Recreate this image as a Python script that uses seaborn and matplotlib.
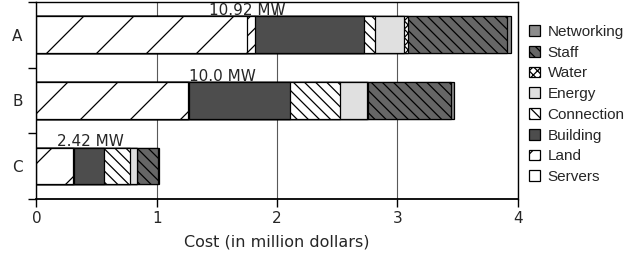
import numpy as np
import matplotlib
matplotlib.use('Agg')
import matplotlib.pyplot as plt
from matplotlib.backend_bases import GraphicsContextBase
import seaborn as sns

# ─── Data (million dollars) ───
sites = ['A', 'B', 'C']
power_mw = [10.92, 10.0, 2.42]
components = ['Servers', 'Land', 'Building', 'Connection', 'Energy', 'Water', 'Staff', 'Networking']
servers    = [1.75, 1.256, 0.306]
land       = [0.063, 0.015, 0.005]
building   = [0.911, 0.835, 0.25]
connection = [0.091, 0.415, 0.219]
energy     = [0.243, 0.23, 0.055]
water      = [0.033, 0.008, 0.004]
staff      = [0.817, 0.69, 0.17]
networking = [0.036, 0.022, 0.006]

costs = [servers, land, building, connection, energy, water, staff, networking]
faces = ['white', 'white', '0.3', 'white', '0.88', 'white', '0.4', '0.55']
hatches = ['/', '//', None, '\\\\\\', None, 'xxxx', '\\\\\\', None]

# single '/' hatch is drawn sparse, like in the original figure
_orig_hatch_path = GraphicsContextBase.get_hatch_path
def _hatch_path(self, density=6.0):
    if self.get_hatch() == '/':
        density = 4.0
    return _orig_hatch_path(self, density)
GraphicsContextBase.get_hatch_path = _hatch_path

sns.set_style('ticks')
plt.rcParams['font.family'] = 'DejaVu Sans'
plt.rcParams['hatch.linewidth'] = 0.9

fig, ax = plt.subplots(figsize=(6.4, 2.58), dpi=100)
fig.subplots_adjust(left=0.057, right=0.809, top=0.992, bottom=0.229)

# stacked bars: draw cumulative totals from the largest down
cum = np.cumsum(np.array(costs), axis=0)
for i in reversed(range(len(components))):
    sns.barplot(x=cum[i], y=sites, orient='h', color=faces[i], saturation=1,
                hatch=hatches[i], edgecolor='black', linewidth=0.9,
                width=0.56, errorbar=None, label=components[i], ax=ax)

totals = cum[-1]
for j, p in enumerate(power_mw):
    ax.text(totals[j] * 0.445, j - 0.30, f'{p} MW', ha='center', va='baseline', fontsize=11)

ax.set_xlim(0, 4)
ax.set_ylim(2.5, -0.5)
ax.set_xticks([0, 1, 2, 3, 4])
ax.set_yticks([-0.5, 0.5, 1.5, 2.5], labels=[])
ax.set_yticks([0, 1, 2], labels=sites, minor=True)
ax.tick_params(axis='y', which='minor', length=0, pad=10, labelsize=11)
ax.tick_params(axis='both', which='major', length=5.5, width=1, color='black', labelsize=11)
ax.set_xlabel('Cost (in million dollars)', fontsize=11.5, labelpad=6)
ax.set_ylabel('')
ax.set_axisbelow(True)
ax.xaxis.grid(True, color='0.35', linewidth=0.8)
for s in ax.spines.values():
    s.set_visible(True)
    s.set_color('black')
    s.set_linewidth(1.0)
ax.spines['bottom'].set_linewidth(1.3)

leg = ax.legend(loc='center left', bbox_to_anchor=(0.826, 0.595), bbox_transform=fig.transFigure,
                frameon=False, borderpad=0, borderaxespad=0, handlelength=0.75, handleheight=0.7,
                handletextpad=0.5, labelspacing=0.44, prop={'family': 'Liberation Sans', 'size': 11})
# the servers key is shown plain
leg.legend_handles[-1].set_hatch(None)

plt.savefig('out.png', dpi=100)
